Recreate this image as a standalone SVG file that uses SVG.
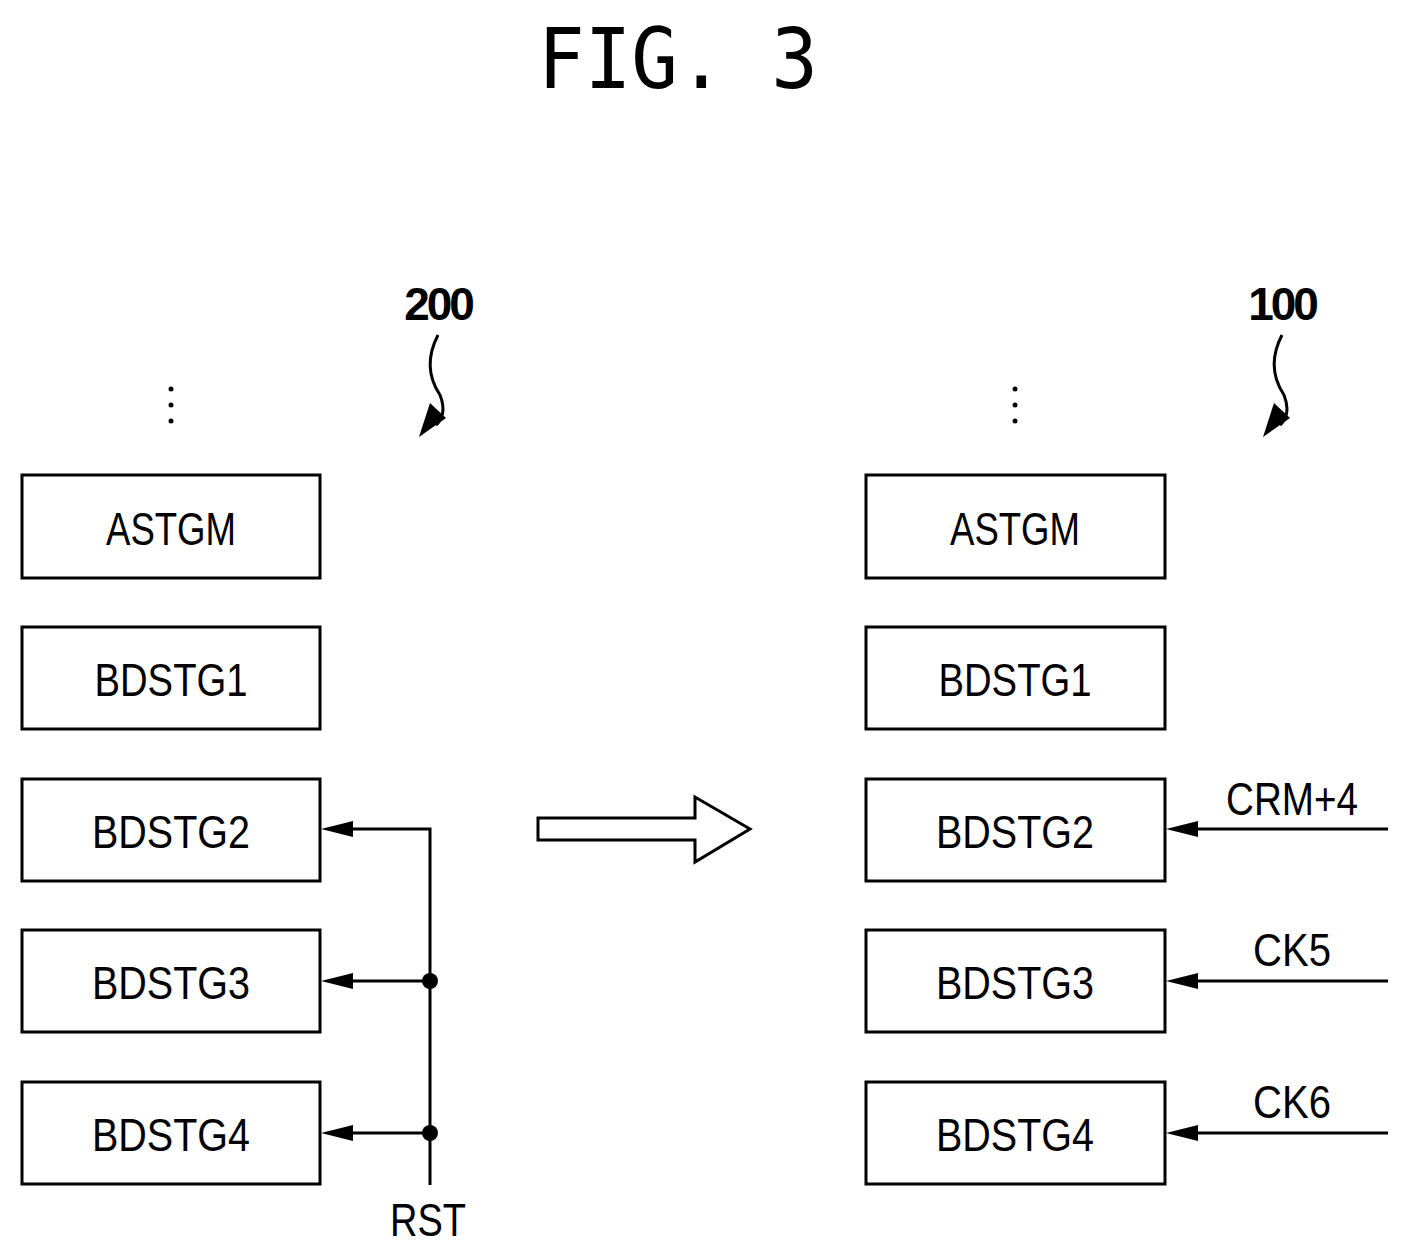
<svg xmlns="http://www.w3.org/2000/svg" width="1408" height="1257" viewBox="0 0 1408 1257">
<defs>
<style>
.b{fill:#fff;stroke:#000;stroke-width:3}
.t{font-family:"Liberation Sans",sans-serif;font-size:46px;text-anchor:middle;fill:#000}
.l{stroke:#000;stroke-width:3;fill:none}
.n{font-family:"Liberation Sans",sans-serif;font-size:46px;font-weight:bold;text-anchor:middle;letter-spacing:-3px}
</style>
</defs>
<rect width="1408" height="1257" fill="#fff"/>
<text x="678" y="88" font-family="DejaVu Sans Mono,Liberation Mono,monospace" font-size="84" text-anchor="middle" textLength="280" lengthAdjust="spacingAndGlyphs">FIG. 3</text>
<text class="n" x="438" y="320">200</text>
<text class="n" x="1282" y="320">100</text>
<g id="squiggles" fill="none" stroke="#000" stroke-width="3">
<path d="M438,335 C425,360 430,380 440,395 C446,410 442,420 436,425"/>
<path d="M1282,335 C1269,360 1274,380 1284,395 C1290,410 1286,420 1280,425"/>
<path d="M419,437 L430,403 L446,418 Z" fill="#000" stroke="none"/>
<path d="M1263,437 L1274,403 L1290,418 Z" fill="#000" stroke="none"/>
</g>
<g id="dots"><circle cx="171" cy="389" r="2.5"/><circle cx="171" cy="405" r="2.5"/><circle cx="171" cy="421" r="2.5"/>
<circle cx="1015" cy="389" r="2.5"/><circle cx="1015" cy="405" r="2.5"/><circle cx="1015" cy="421" r="2.5"/></g>
<g id="L1"><rect class="b" x="22" y="475" width="298" height="103"/><text class="t" x="171" y="545" textLength="130" lengthAdjust="spacingAndGlyphs">ASTGM</text></g>
<g id="L2"><rect class="b" x="22" y="627" width="298" height="102"/><text class="t" x="171" y="696" textLength="153" lengthAdjust="spacingAndGlyphs">BDSTG1</text></g>
<g id="L3"><rect class="b" x="22" y="779" width="298" height="102"/><text class="t" x="171" y="848" textLength="158" lengthAdjust="spacingAndGlyphs">BDSTG2</text></g>
<g id="L4"><rect class="b" x="22" y="930" width="298" height="102"/><text class="t" x="171" y="999" textLength="158" lengthAdjust="spacingAndGlyphs">BDSTG3</text></g>
<g id="L5"><rect class="b" x="22" y="1082" width="298" height="102"/><text class="t" x="171" y="1151" textLength="158" lengthAdjust="spacingAndGlyphs">BDSTG4</text></g>
<g id="R1"><rect class="b" x="866" y="475" width="299" height="103"/><text class="t" x="1015" y="545" textLength="130" lengthAdjust="spacingAndGlyphs">ASTGM</text></g>
<g id="R2"><rect class="b" x="866" y="627" width="299" height="102"/><text class="t" x="1015" y="696" textLength="153" lengthAdjust="spacingAndGlyphs">BDSTG1</text></g>
<g id="R3"><rect class="b" x="866" y="779" width="299" height="102"/><text class="t" x="1015" y="848" textLength="158" lengthAdjust="spacingAndGlyphs">BDSTG2</text></g>
<g id="R4"><rect class="b" x="866" y="930" width="299" height="102"/><text class="t" x="1015" y="999" textLength="158" lengthAdjust="spacingAndGlyphs">BDSTG3</text></g>
<g id="R5"><rect class="b" x="866" y="1082" width="299" height="102"/><text class="t" x="1015" y="1151" textLength="158" lengthAdjust="spacingAndGlyphs">BDSTG4</text></g>
<g id="connectors">
<path class="l" d="M430,1185 L430,829 L352,829"/>
<path class="l" d="M430,981 L352,981"/>
<path class="l" d="M430,1133 L352,1133"/>
<path d="M321,829 L353,821 L353,837 Z M321,981 L353,973 L353,989 Z M321,1133 L353,1125 L353,1141 Z"/>
<circle cx="430" cy="981" r="8"/><circle cx="430" cy="1133" r="8"/>
<path class="l" d="M1388,829 L1196,829 M1388,981 L1196,981 M1388,1133 L1196,1133"/>
<path d="M1166,829 L1198,821 L1198,837 Z M1166,981 L1198,973 L1198,989 Z M1166,1133 L1198,1125 L1198,1141 Z"/>
<path class="l" d="M538,818 L695,818 L695,797 L750,829 L695,862 L695,840 L538,840 Z"/>
</g>
<text class="t" x="428" y="1236" textLength="76" lengthAdjust="spacingAndGlyphs">RST</text>
<text class="t" x="1292" y="815" textLength="132" lengthAdjust="spacingAndGlyphs">CRM+4</text>
<text class="t" x="1292" y="966" textLength="78" lengthAdjust="spacingAndGlyphs">CK5</text>
<text class="t" x="1292" y="1118" textLength="78" lengthAdjust="spacingAndGlyphs">CK6</text>
</svg>
